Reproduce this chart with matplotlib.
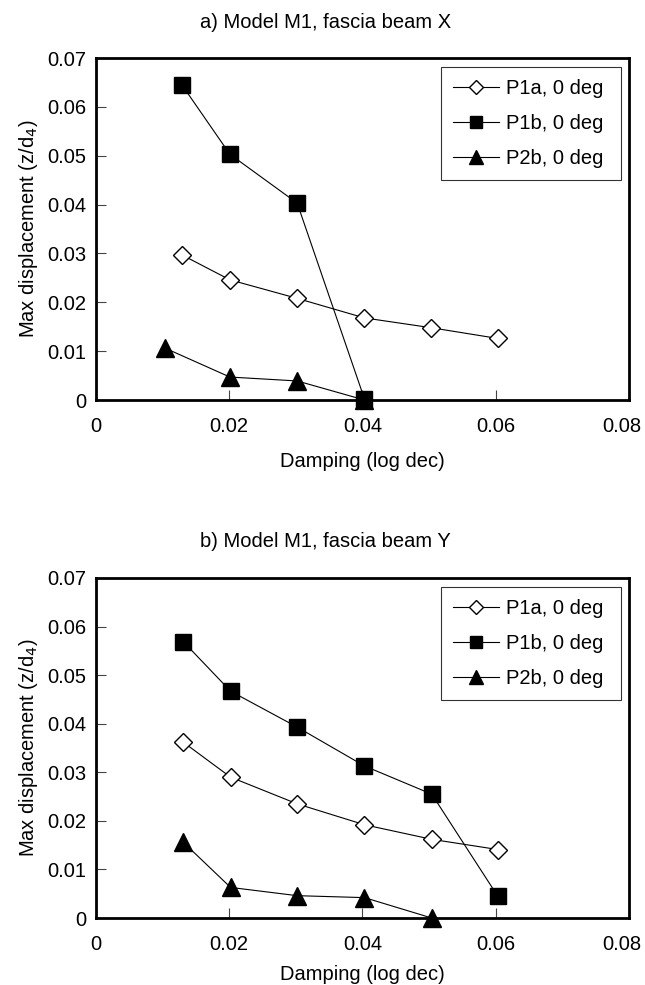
import numpy as np
import matplotlib
matplotlib.use("Agg")
import matplotlib.pyplot as plt
from matplotlib.transforms import ScaledTranslation

plt.rcParams['font.family'] = ['Liberation Sans', 'DejaVu Sans']
FS = 14.5

labels = ['P1a, 0 deg', 'P1b, 0 deg', 'P2b, 0 deg']

# panel a) fascia beam X
xa_p1a = [0.0129, 0.0201, 0.0302, 0.0403, 0.0503, 0.0603]
ya_p1a = [0.0297, 0.0246, 0.0208, 0.0168, 0.0148, 0.0126]
xa_p1b = [0.0129, 0.0201, 0.0302, 0.0403]
ya_p1b = [0.0645, 0.0503, 0.0403, 0.0002]
xa_p2b = [0.0104, 0.0201, 0.0302, 0.0403]
ya_p2b = [0.0106, 0.0047, 0.0039, 0.0]

# panel b) fascia beam Y
xb_p1a = [0.0131, 0.0202, 0.0302, 0.0403, 0.0504, 0.0603]
yb_p1a = [0.0362, 0.0290, 0.0235, 0.0192, 0.0162, 0.0141]
xb_p1b = [0.0131, 0.0202, 0.0302, 0.0403, 0.0504, 0.0603]
yb_p1b = [0.0569, 0.0467, 0.0393, 0.0313, 0.0255, 0.0045]
xb_p2b = [0.0131, 0.0202, 0.0302, 0.0403, 0.0504]
yb_p2b = [0.0156, 0.0063, 0.0046, 0.0042, 0.0]

xticks = [0, 0.02, 0.04, 0.06, 0.08]
xticklabels = ['0', '0.02', '0.04', '0.06', '0.08']
yticks = [0, 0.01, 0.02, 0.03, 0.04, 0.05, 0.06, 0.07]
yticklabels = ['0', '0.01', '0.02', '0.03', '0.04', '0.05', '0.06', '0.07']

fig = plt.figure(figsize=(6.45, 9.85), dpi=100)
ax_a = fig.add_axes([0.1488, 0.5939, 0.8264, 0.3472])
ax_b = fig.add_axes([0.1488, 0.0680, 0.8264, 0.3452])

panels = [
    (ax_a, 'a) Model M1, fascia beam X', 0.977, 12,
     (xa_p1a, ya_p1a), (xa_p1b, ya_p1b), (xa_p2b, ya_p2b)),
    (ax_b, 'b) Model M1, fascia beam Y', 0.450, 8,
     (xb_p1a, yb_p1a), (xb_p1b, yb_p1b), (xb_p2b, yb_p2b)),
]

for ax, title, ty, xpad, s1, s2, s3 in panels:
    ax.plot(*s1, color='black', lw=0.8, marker='D', ms=9.2,
            mfc='white', mec='black', mew=1.0, label=labels[0], clip_on=False)
    ax.plot(*s2, color='black', lw=0.8, marker='s', ms=12.2,
            mfc='black', mec='black', label=labels[1], clip_on=False)
    ax.plot(*s3, color='black', lw=0.8, marker='^', ms=13,
            mfc='black', mec='black', label=labels[2], clip_on=False)

    ax.set_xlim(0, 0.08)
    ax.set_ylim(0, 0.07)
    ax.set_xticks(xticks)
    ax.set_yticks(yticks)
    ax.set_xticklabels(xticklabels, fontsize=FS)
    ax.set_yticklabels(yticklabels, fontsize=FS)
    ax.tick_params(direction='in', length=7, width=0.8, color='#444444')
    ax.tick_params(axis='x', pad=12)
    ax.tick_params(axis='y', pad=7)
    for sp in ax.spines.values():
        sp.set_linewidth(2.0)

    # last x label sits a little left so it stays inside the figure
    last = ax.get_xticklabels()[-1]
    last.set_transform(last.get_transform() +
                       ScaledTranslation(-0.07, 0, fig.dpi_scale_trans))

    ax.set_xlabel('Damping (log dec)', fontsize=FS, labelpad=xpad)
    ax.set_ylabel('Max displacement (z/d$_4$)', fontsize=FS, labelpad=5)

    fig.text(0.505, ty, title, fontsize=FS, ha='center', va='center')

    leg = ax.legend(loc='upper left', bbox_to_anchor=(0.647, 0.974, 0.338, 0.0),
                    mode='expand', borderaxespad=0, fontsize=FS, frameon=True,
                    fancybox=False, edgecolor='black', handlelength=2.3,
                    handletextpad=0.35, labelspacing=0.8, markerscale=0.75,
                    borderpad=0.6)
    leg.get_frame().set_linewidth(0.8)

fig.savefig('out.png', dpi=100, facecolor='white')
